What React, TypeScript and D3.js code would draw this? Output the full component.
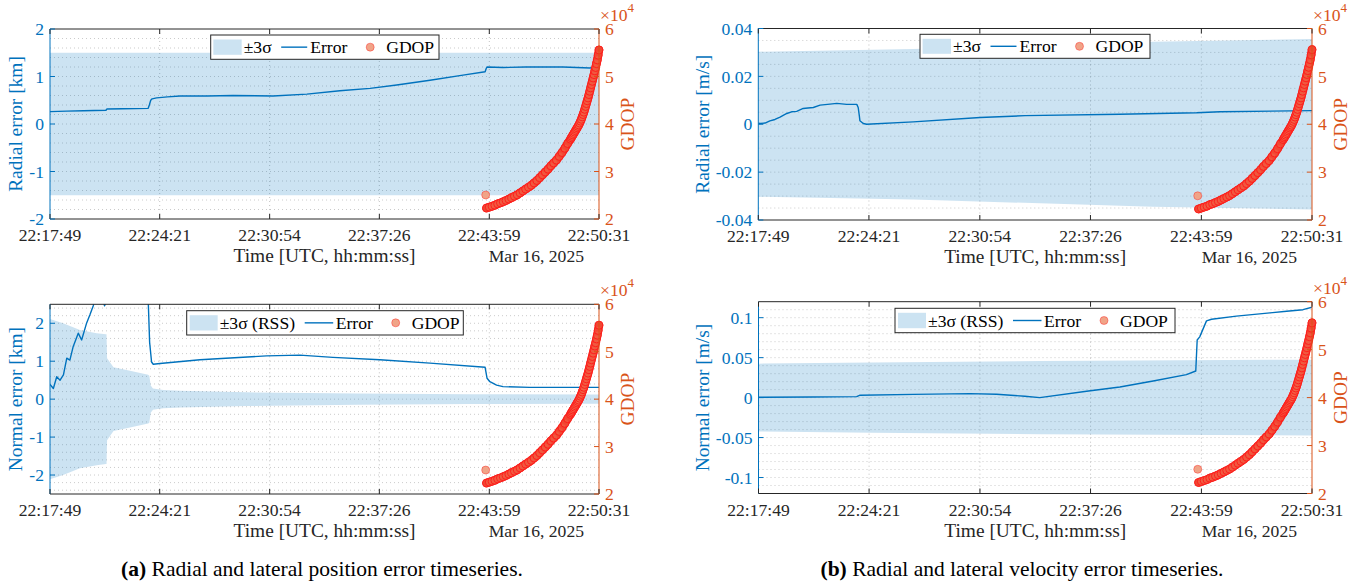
import React from "react";
import * as d3 from "d3";

const FONT = "'Liberation Serif','Times New Roman',Times,serif";
const BLUE = "#0072BD";
const ORANGE = "#D95319";
const DARK = "#262626";
const TICK_FS = 17.6;
const LABEL_FS = 19.4;

// ---------- shared axis text ----------
const timeTickLabels = ["22:17:49", "22:24:21", "22:30:54", "22:37:26", "22:43:59", "22:50:31"];
const dateLabel = "Mar 16, 2025";
const timeAxisTitle = "Time [UTC, hh:mm:ss]";
const gdopTitle = "GDOP";
const gdopTickValues = [20000, 30000, 40000, 50000, 60000];
const gdopTickLabels = ["2", "3", "4", "5", "6"];
const captionA = ["(a)", " Radial and lateral position error timeseries."];
const captionB = ["(b)", " Radial and lateral velocity error timeseries."];

// ---------- GDOP (seconds after 22:17:49) ----------
const gdopTimes = [
  1557, 1560, 1570, 1580, 1590, 1600, 1610, 1620, 1630, 1640, 1650, 1660, 1670, 1680, 1690, 1700,
  1710, 1720, 1730, 1740, 1750, 1760, 1770, 1780, 1790, 1800, 1810, 1820, 1830, 1840, 1850, 1860,
  1863, 1866, 1869, 1872, 1875, 1878, 1881, 1884, 1887, 1890, 1893, 1896, 1899, 1902, 1905, 1908,
  1911, 1914, 1917, 1920, 1923, 1926, 1929, 1932, 1935, 1938, 1941, 1944, 1947, 1950, 1953, 1956,
  1959, 1962,
];
const gdopValues = [
  25050, 22300, 22500, 22700, 22900, 23200, 23400, 23650, 23900, 24200, 24500, 24800, 25100, 25500,
  25900, 26300, 26700, 27100, 27600, 28100, 28700, 29300, 29900, 30500, 31200, 31800, 32400, 33200,
  34000, 34900, 35900, 36800, 37100, 37400, 37700, 38000, 38300, 38600, 38900, 39200, 39500, 39800,
  40200, 40600, 41000, 41500, 42000, 42500, 43100, 43700, 44300, 44900, 45500, 46200, 46900, 47600,
  48300, 49000, 49700, 50400, 51200, 51900, 52700, 53500, 54500, 55600,
];

// ---------- (a) radial position error [km] ----------
const posRadialT = [0, 60, 120, 200, 203, 260, 351, 355, 360, 365, 381, 420, 465, 560, 654, 797, 918, 1036, 1144, 1239, 1358, 1476, 1555, 1559, 1562, 1619, 1700, 1833, 1930, 1951, 1962];
const posRadialV = [0.26, 0.27, 0.28, 0.29, 0.315, 0.32, 0.33, 0.40, 0.50, 0.53, 0.55, 0.57, 0.59, 0.59, 0.60, 0.59, 0.63, 0.70, 0.75, 0.82, 0.92, 1.03, 1.10, 1.17, 1.20, 1.19, 1.20, 1.20, 1.18, 1.20, 1.19];
const posRadialBandT = [0, 1962];
const posRadialBandH = [1.5, 1.5];
const posTickValues = [-2, -1, 0, 1, 2];
const posTickLabels = ["-2", "-1", "0", "1", "2"];

// ---------- (a) normal position error [km] ----------
const posNormalT = [0, 12, 24, 36, 48, 60, 71, 83, 101, 113, 131, 143, 155, 164, 186, 195, 200, 207, 286, 348, 351, 356, 363, 369, 393, 536, 774, 893, 1011, 1179, 1358, 1555, 1562, 1572, 1596, 1619, 1715, 1962];
const posNormalV = [0.39, 0.28, 0.59, 0.50, 0.64, 1.08, 1.03, 1.39, 1.74, 1.56, 2.01, 2.23, 2.47, 2.8, 2.7, 2.46, 2.55, 3.5, 5.0, 4.0, 2.6, 1.5, 0.98, 0.92, 0.94, 1.04, 1.14, 1.16, 1.10, 1.04, 0.95, 0.84, 0.55, 0.46, 0.37, 0.33, 0.31, 0.31];
const posNormalBandT = [0, 47, 107, 167, 200, 202, 204, 227, 286, 351, 355, 360, 368, 405, 465, 700, 1100, 1500, 1962];
const posNormalBandH = [2.11, 2.0, 1.82, 1.74, 1.71, 1.71, 1.08, 0.84, 0.75, 0.64, 0.62, 0.36, 0.28, 0.24, 0.22, 0.18, 0.15, 0.13, 0.12];

// ---------- (b) radial velocity error [m/s] ----------
const velRadialT = [0, 6, 24, 41, 59, 77, 101, 118, 136, 159, 176, 195, 219, 254, 278, 313, 349, 354, 358, 360, 372, 384, 549, 786, 945, 1281, 1553, 1636, 1962];
const velRadialV = [0.0005, 0.0003, 0.0005, 0.0014, 0.002, 0.003, 0.0045, 0.0052, 0.0054, 0.0066, 0.0068, 0.007, 0.008, 0.0084, 0.0087, 0.0083, 0.0083, 0.007, 0.0035, 0.0015, 0.0003, 0.0, 0.001, 0.0028, 0.0036, 0.0042, 0.0048, 0.0052, 0.0057];
const velRadialBandT = [0, 549, 1398, 1962];
const velRadialBandH = [0.0303, 0.0314, 0.0345, 0.0356];
const velRadialTickValues = [-0.04, -0.02, 0, 0.02, 0.04];
const velRadialTickLabels = ["-0.04", "-0.02", "0", "0.02", "0.04"];

// ---------- (b) normal velocity error [m/s] ----------
const velNormalT = [0, 193, 348, 360, 549, 749, 844, 944, 997, 1163, 1281, 1399, 1517, 1550, 1555, 1564, 1588, 1606, 1694, 1813, 1872, 1930, 1962];
const velNormalV = [0.0004, 0.0008, 0.0012, 0.003, 0.004, 0.005, 0.0042, 0.0017, 0.0, 0.0079, 0.0133, 0.0208, 0.0288, 0.0333, 0.072, 0.076, 0.096, 0.098, 0.102, 0.106, 0.108, 0.110, 0.113];
const velNormalBandT = [0, 400, 1000, 1962];
const velNormalBandH = [0.0425, 0.044, 0.0458, 0.0475];
const velNormalTickValues = [-0.1, -0.05, 0, 0.05, 0.1];
const velNormalTickLabels = ["-0.1", "-0.05", "0", "0.05", "0.1"];

const legendSimple = ["±3σ", "Error", "GDOP"];
const legendRSS = ["±3σ (RSS)", "Error", "GDOP"];

const toSec = (s: string) => {
  const [h, m, x] = s.split(":").map(Number);
  return h * 3600 + m * 60 + x;
};
const t0 = toSec(timeTickLabels[0]);
const timeTickSeconds = timeTickLabels.map((l) => toSec(l) - t0);
const tEnd = timeTickSeconds[timeTickSeconds.length - 1];

const LAY_SIMPLE = { sw: [2.6, 31], t1: 33, ln: [70.5, 96.5], t2: 99.5, mk: 159.5, t3: 175.5 };
const LAY_RSS = { sw: [3, 31], t1: 33, ln: [118, 146.5], t2: 149, mk: 209, t3: 225 };

const panels = [
  {
    id: "tl", left: 50, right: 599, top: 29, bottom: 219,
    yDomain: [-2, 2], yTicks: posTickValues, yTickLabels: posTickLabels, minor: 0.2,
    yTitle: "Radial error [km]", yTitleX: 22,
    errT: posRadialT, errV: posRadialV, bandT: posRadialBandT, bandH: posRadialBandH,
    legend: { x: 210.7, y: 35, w: 228.3, h: 24.3, labels: legendSimple, lay: LAY_SIMPLE },
  },
  {
    id: "tr", left: 758.3, right: 1312, top: 28.5, bottom: 220,
    yDomain: [-0.04, 0.04], yTicks: velRadialTickValues, yTickLabels: velRadialTickLabels, minor: 0.005,
    yTitle: "Radial error [m/s]", yTitleX: 709,
    errT: velRadialT, errV: velRadialV, bandT: velRadialBandT, bandH: velRadialBandH,
    legend: { x: 920, y: 34.3, w: 230, h: 24, labels: legendSimple, lay: LAY_SIMPLE },
  },
  {
    id: "bl", left: 50, right: 599, top: 304.3, bottom: 494,
    yDomain: [-2.5, 2.5], yTicks: posTickValues, yTickLabels: posTickLabels, minor: 0.2,
    yTitle: "Normal error [km]", yTitleX: 22,
    errT: posNormalT, errV: posNormalV, bandT: posNormalBandT, bandH: posNormalBandH,
    legend: { x: 186.7, y: 310.7, w: 276.6, h: 24.3, labels: legendRSS, lay: LAY_RSS },
  },
  {
    id: "br", left: 758.5, right: 1312, top: 301.7, bottom: 493.5,
    yDomain: [-0.12, 0.12], yTicks: velNormalTickValues, yTickLabels: velNormalTickLabels, minor: 0.01,
    yTitle: "Normal error [m/s]", yTitleX: 709,
    errT: velNormalT, errV: velNormalV, bandT: velNormalBandT, bandH: velNormalBandH,
    legend: { x: 895, y: 308.3, w: 280, h: 24.4, labels: legendRSS, lay: LAY_RSS },
  },
];

const MARK_FILL = "#EE6A4A";
const MARK_FILL_OP = 0.55;
const MARK_STROKE = "#FF1A1A";
const MARK_R = 4;

function Legend({ cfg }: any) {
  const { x, y, w, h, labels, lay } = cfg;
  const cy = y + h / 2;
  return (
    <g>
      <rect x={x} y={y} width={w} height={h} fill="#fff" stroke={DARK} strokeWidth={1} />
      <rect x={x + lay.sw[0]} y={y + 4.5} width={lay.sw[1] - lay.sw[0]} height={h - 9} fill={BLUE} fillOpacity={0.2} />
      <text x={x + lay.t1} y={cy} dy="0.35em" fontSize={TICK_FS} fill="#000">{labels[0]}</text>
      <line x1={x + lay.ln[0]} x2={x + lay.ln[1]} y1={cy} y2={cy} stroke={BLUE} strokeWidth={1.4} />
      <text x={x + lay.t2} y={cy} dy="0.35em" fontSize={TICK_FS} fill="#000">{labels[1]}</text>
      <circle cx={x + lay.mk} cy={cy} r={MARK_R} fill="#F0A488" stroke={MARK_STROKE} strokeWidth={0.6} strokeOpacity={0.7} />
      <text x={x + lay.t3} y={cy} dy="0.35em" fontSize={TICK_FS} fill="#000">{labels[2]}</text>
    </g>
  );
}

function Panel({ p }: any) {
  const x = d3.scaleLinear().domain([0, tEnd]).range([p.left, p.right]);
  const y = d3.scaleLinear().domain(p.yDomain).range([p.bottom, p.top]);
  const yR = d3.scaleLinear().domain([gdopTickValues[0], gdopTickValues[gdopTickValues.length - 1]]).range([p.bottom, p.top]);

  const idx = (arr: number[]) => arr.map((_, i) => i);
  const area = d3
    .area<number>()
    .x((i) => x(p.bandT[i]))
    .y0((i) => y(-p.bandH[i]))
    .y1((i) => y(p.bandH[i]));
  const line = d3
    .line<number>()
    .x((i) => x(p.errT[i]))
    .y((i) => y(p.errV[i]));
  // dense GDOP trace (the run of markers after the first, isolated one)
  const gLine = d3
    .line<number>()
    .x((i) => x(gdopTimes[i]))
    .y((i) => yR(gdopValues[i]))
    .curve(d3.curveMonotoneX);
  const gIdx = idx(gdopTimes).slice(1);

  const [d0, d1] = p.yDomain;
  const k0 = Math.ceil(d0 / p.minor - 1e-6);
  const k1 = Math.floor(d1 / p.minor + 1e-6);
  const minorVals = d3.range(k0, k1 + 1).map((k) => k * p.minor).filter((v) => Math.abs(y(v) - p.top) > 1 && Math.abs(y(v) - p.bottom) > 1);

  const tl = 5;
  const clipId = `clip-${p.id}`;
  const cx = (p.left + p.right) / 2;
  const cyMid = (p.top + p.bottom) / 2;

  return (
    <g fontFamily={FONT}>
      <defs>
        <clipPath id={clipId}>
          <rect x={p.left} y={p.top} width={p.right - p.left} height={p.bottom - p.top} />
        </clipPath>
      </defs>
      <rect x={p.left} y={p.top} width={p.right - p.left} height={p.bottom - p.top} fill="#fff" />
      {/* grid */}
      {minorVals.map((v, i) => (
        <line key={"h" + i} x1={p.left} x2={p.right} y1={y(v)} y2={y(v)} stroke={DARK} strokeOpacity={0.3} strokeWidth={0.8} strokeDasharray="1 3" />
      ))}
      {timeTickSeconds.slice(1, -1).map((t, i) => (
        <line key={"v" + i} x1={x(t)} x2={x(t)} y1={p.top} y2={p.bottom} stroke={DARK} strokeOpacity={0.35} strokeWidth={0.8} strokeDasharray="1 3" />
      ))}
      {/* band + error */}
      <g clipPath={`url(#${clipId})`}>
        <path d={area(idx(p.bandT)) || ""} fill={BLUE} fillOpacity={0.2} />
        <path d={line(idx(p.errT)) || ""} fill="none" stroke={BLUE} strokeWidth={1.4} strokeLinejoin="round" />
      </g>
      {/* GDOP scatter */}
      <path d={gLine(gIdx) || ""} fill="none" stroke="#F21C14" strokeWidth={8.5} strokeLinecap="round" strokeLinejoin="round" />
      {gdopTimes.map((t, i) => (
        <circle key={"g" + i} cx={x(t)} cy={yR(gdopValues[i])} r={MARK_R} fill={i === 0 ? "#F0A488" : MARK_FILL} fillOpacity={i === 0 ? 1 : MARK_FILL_OP} stroke={MARK_STROKE} strokeWidth={i === 0 ? 0.6 : 0.9} strokeOpacity={i === 0 ? 0.7 : 1} />
      ))}
      {/* axes */}
      <line x1={p.left} x2={p.right} y1={p.top} y2={p.top} stroke={DARK} strokeWidth={1} />
      <line x1={p.left} x2={p.right} y1={p.bottom} y2={p.bottom} stroke={DARK} strokeWidth={1} />
      <line x1={p.left} x2={p.left} y1={p.top} y2={p.bottom} stroke={BLUE} strokeWidth={1} />
      <line x1={p.right} x2={p.right} y1={p.top} y2={p.bottom} stroke={ORANGE} strokeWidth={1} />
      {timeTickSeconds.map((t, i) => (
        <g key={"xt" + i}>
          <line x1={x(t)} x2={x(t)} y1={p.bottom} y2={p.bottom - tl} stroke={DARK} />
          <line x1={x(t)} x2={x(t)} y1={p.top} y2={p.top + tl} stroke={DARK} />
          <text x={x(t)} y={p.bottom + 22} textAnchor="middle" fontSize={TICK_FS} fill={DARK}>{timeTickLabels[i]}</text>
        </g>
      ))}
      {p.yTicks.map((v: number, i: number) => (
        <g key={"yt" + i}>
          <line x1={p.left} x2={p.left + tl} y1={y(v)} y2={y(v)} stroke={BLUE} />
          <text x={p.left - 6} y={y(v)} dy="0.35em" textAnchor="end" fontSize={TICK_FS} fill={BLUE}>{p.yTickLabels[i]}</text>
        </g>
      ))}
      {gdopTickValues.map((v, i) => (
        <g key={"rt" + i}>
          <line x1={p.right} x2={p.right - tl} y1={yR(v)} y2={yR(v)} stroke={ORANGE} />
          <text x={p.right + 6} y={yR(v)} dy="0.35em" textAnchor="start" fontSize={TICK_FS} fill={ORANGE}>{gdopTickLabels[i]}</text>
        </g>
      ))}
      {/* titles */}
      <text x={cx} y={p.bottom + 43} textAnchor="middle" fontSize={LABEL_FS} fill={DARK}>{timeAxisTitle}</text>
      <text x={p.right - 15} y={p.bottom + 43} textAnchor="end" fontSize={TICK_FS} fill={DARK}>{dateLabel}</text>
      <text transform={`translate(${p.yTitleX},${cyMid}) rotate(-90)`} textAnchor="middle" fontSize={LABEL_FS} fill={BLUE}>{p.yTitle}</text>
      <text transform={`translate(${p.right + 35},${cyMid}) rotate(-90)`} textAnchor="middle" fontSize={LABEL_FS} fill={ORANGE}>{gdopTitle}</text>
      <text x={p.right + 1} y={p.top - 8} fontSize={TICK_FS} fill={ORANGE}>
        ×10<tspan dy={-9} fontSize={13}>4</tspan>
      </text>
      <Legend cfg={p.legend} />
    </g>
  );
}

export default function App() {
  return (
    <>
      <style>{`body{margin:0;background:#fff}`}</style>
      <svg width={1370} height={587} viewBox="0 0 1370 587" style={{ display: "block" }} fontFamily={FONT}>
        <rect width={1370} height={587} fill="#fff" />
        {panels.map((p) => (
          <Panel key={p.id} p={p} />
        ))}
        <text x={322} y={576} textAnchor="middle" fontSize={21.5} fill="#000">
          <tspan fontWeight="bold">{captionA[0]}</tspan>
          {captionA[1]}
        </text>
        <text x={1022} y={576} textAnchor="middle" fontSize={21.5} fill="#000">
          <tspan fontWeight="bold">{captionB[0]}</tspan>
          {captionB[1]}
        </text>
      </svg>
    </>
  );
}
